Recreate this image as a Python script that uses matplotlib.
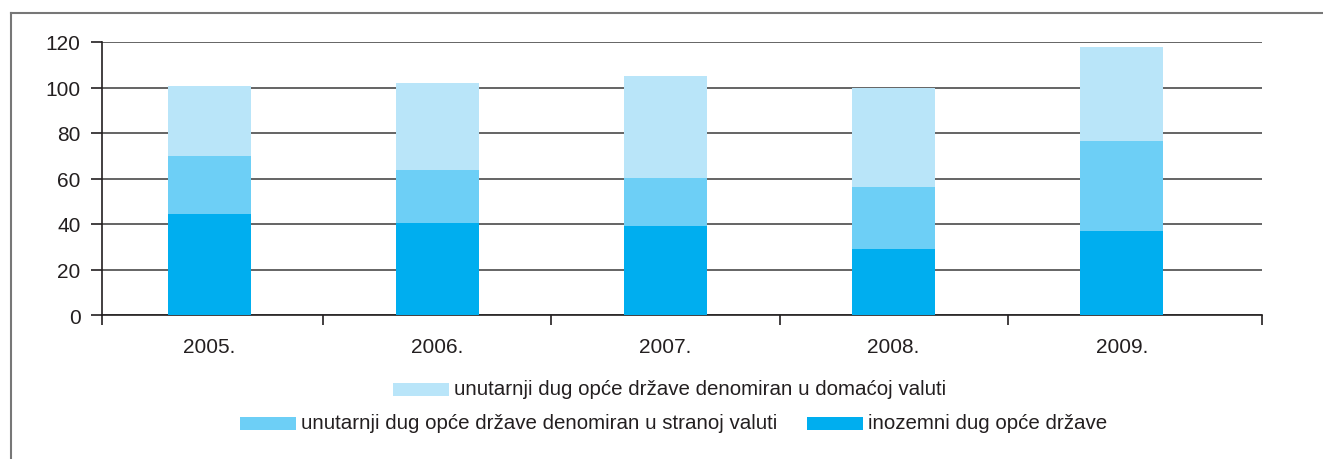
import matplotlib
matplotlib.use("Agg")
import matplotlib.pyplot as plt
from matplotlib.patches import Rectangle
from matplotlib.lines import Line2D

plt.rcParams['font.family'] = ['Liberation Sans', 'DejaVu Sans']

years = ["2005.", "2006.", "2007.", "2008.", "2009."]
inozemni = [44.4, 40.5, 39.3, 29.0, 36.9]
stranoj = [25.5, 23.3, 21.0, 27.3, 39.6]
domacoj = [30.8, 38.3, 44.8, 43.3, 41.3]
labels = ["inozemni dug opće države",
          "unutarnji dug opće države denomiran u stranoj valuti",
          "unutarnji dug opće države denomiran u domaćoj valuti"]
colors = ["#00aeef", "#6dcff6", "#b9e5f9"]
yticks = [0, 20, 40, 60, 80, 100, 120]

W, H = 1323, 460
fig = plt.figure(figsize=(W / 100, H / 100), dpi=100)
ax = fig.add_axes([102 / W, 1 - 316 / H, (1262 - 102) / W, (316 - 43) / H])

x = list(range(len(years)))
bw = 0.364
ax.bar(x, inozemni, width=bw, color=colors[0], zorder=3)
ax.bar(x, stranoj, width=bw, bottom=inozemni, color=colors[1], zorder=3)
bottom3 = [a + b for a, b in zip(inozemni, stranoj)]
ax.bar(x, domacoj, width=bw, bottom=bottom3, color=colors[2], zorder=3)

xl, xr = -0.47, 4.615
ax.set_xlim(xl, xr)
ax.set_ylim(0, 120)
ax.set_yticks(yticks)
ax.set_yticklabels([str(v) for v in yticks], fontsize=15, color="#231f20")
ax.yaxis.grid(True, color="#4a4a4a", linewidth=1.2, zorder=1)
ax.set_axisbelow(True)

ax.set_xticks(x)
ax.set_xticklabels(years, fontsize=15, color="#231f20")
ax.tick_params(axis='x', which='major', length=0, pad=16)
ax.set_xticks([xl] + [i + 0.5 for i in range(len(years) - 1)] + [xr], minor=True)
ax.tick_params(axis='x', which='minor', length=7.2, width=1.2, color="#231f20", direction='out')
ax.tick_params(axis='y', length=8, width=1.2, color="#231f20", direction='out', pad=7.5)

for s in ['top', 'right']:
    ax.spines[s].set_visible(False)
for s in ['left', 'bottom']:
    ax.spines[s].set_color("#231f20")
    ax.spines[s].set_linewidth(1.2)

# outer frame (left and top)
fig.add_artist(Line2D([11 / W, 11 / W], [0, 1 - 14 / H], transform=fig.transFigure, color="#777777", lw=1.5))
fig.add_artist(Line2D([11 / W, 1], [1 - 14 / H, 1 - 14 / H], transform=fig.transFigure, color="#777777", lw=1.5))

# legend (manual layout)
entries = [(2, 393, 390), (1, 240, 424), (0, 807, 424)]
for idx, px, py in entries:
    fig.add_artist(Rectangle((px / W, 1 - (py + 6.5) / H), 56 / W, 13 / H,
                             transform=fig.transFigure, color=colors[idx], lw=0))
    fig.text((px + 61) / W, 1 - py / H, labels[idx], fontsize=14.8, color="#231f20",
             ha='left', va='center')

fig.savefig("out.png", dpi=100, facecolor="white")
